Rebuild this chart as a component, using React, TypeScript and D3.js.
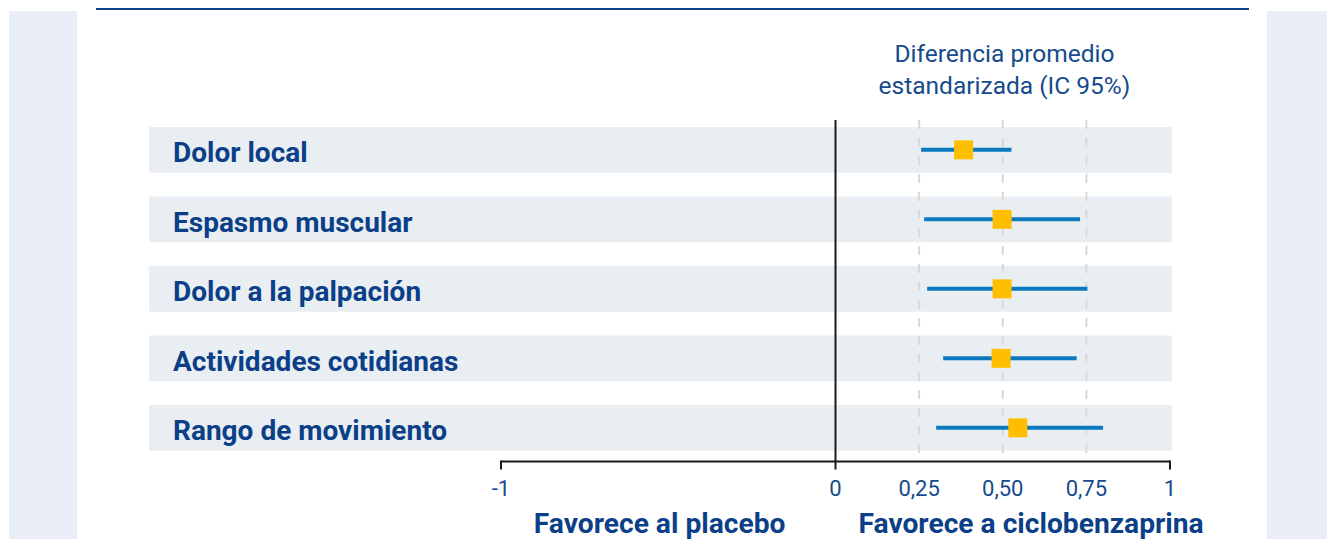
import * as d3 from "d3";

const categories = [
  "Dolor local",
  "Espasmo muscular",
  "Dolor a la palpación",
  "Actividades cotidianas",
  "Rango de movimiento",
];
const estimates = [0.383, 0.498, 0.498, 0.495, 0.545];
const lowerCI = [0.256, 0.265, 0.274, 0.322, 0.301];
const upperCI = [0.526, 0.731, 0.753, 0.721, 0.8];

const tickValues = [-1, 0, 0.25, 0.5, 0.75, 1];
const tickLabels = ["-1", "0", "0,25", "0,50", "0,75", "1"];
const tickMarks = [-1, 0, 1];
const gridValues = [0.25, 0.5, 0.75];

const W = 1327;
const H = 539;
const navy = "#0b3f88";
const blueText = "#154b8c";
const font = "Roboto, 'Liberation Sans', Arial, sans-serif";

const App = () => {
  const x = d3.scaleLinear().domain([-1, 1]).range([501, 1170]);
  const y = d3
    .scaleBand<string>()
    .domain(categories)
    .range([127, 450.7])
    .paddingInner(0.342)
    .paddingOuter(0);

  const axisY = 461.5;
  const plotTop = 120;
  const bw = y.bandwidth();
  const sq = 19;

  return (
    <div style={{ position: "absolute", left: 0, top: 0 }}>
      <svg width={W} height={H} style={{ display: "block", fontFamily: font }}>
        <rect width={W} height={H} fill="#ffffff" />
        {/* side panels */}
        <rect x={9} y={11} width={68} height={H - 11} fill="#eaeef6" />
        <rect x={1267} y={11} width={W - 1267} height={H - 11} fill="#eaeef6" />
        {/* top rule */}
        <line x1={96} x2={1249} y1={9} y2={9} stroke={navy} strokeWidth={2} />

        {/* header */}
        <text
          x={x(0.505)}
          y={61.5}
          textAnchor="middle"
          fontSize={24.5}
          fill={blueText}
        >
          <tspan x={x(0.505)} dy={0}>Diferencia promedio</tspan>
          <tspan x={x(0.505)} dy={32.5}>estandarizada (IC 95%)</tspan>
        </text>

        {/* row bands */}
        {categories.map((c) => (
          <rect
            key={c}
            x={149}
            y={y(c)}
            width={1172 - 149}
            height={bw}
            fill="#e9eef3"
          />
        ))}

        {/* dashed grid */}
        {gridValues.map((v) => (
          <line
            key={v}
            x1={x(v)}
            x2={x(v)}
            y1={plotTop}
            y2={axisY}
            stroke="#d9d9d9"
            strokeWidth={2}
            strokeDasharray="9,9"
          />
        ))}

        {/* zero line */}
        <line
          x1={x(0)}
          x2={x(0)}
          y1={plotTop}
          y2={axisY}
          stroke="#1a1a1a"
          strokeWidth={2}
        />

        {/* row labels */}
        {categories.map((c) => (
          <text
            key={c}
            x={173}
            y={(y(c) as number) + bw / 2 + 12.5}
            fontSize={28}
            fontWeight="bold"
            fill={navy}
          >
            {c}
          </text>
        ))}

        {/* CI lines and estimates */}
        {categories.map((c, i) => {
          const cy = (y(c) as number) + bw / 2;
          return (
            <g key={c}>
              <line
                x1={x(lowerCI[i])}
                x2={x(upperCI[i])}
                y1={cy}
                y2={cy}
                stroke="#0b78c0"
                strokeWidth={4}
              />
              <rect
                x={x(estimates[i]) - sq / 2}
                y={cy - sq / 2}
                width={sq}
                height={sq}
                fill="#ffbf00"
              />
            </g>
          );
        })}

        {/* x axis */}
        <line
          x1={x(-1)}
          x2={x(1)}
          y1={axisY}
          y2={axisY}
          stroke="#1a1a1a"
          strokeWidth={2}
        />
        {tickMarks.map((v) => (
          <line
            key={v}
            x1={x(v)}
            x2={x(v)}
            y1={axisY - 1}
            y2={axisY + 8}
            stroke="#1a1a1a"
            strokeWidth={2}
          />
        ))}
        {tickValues.map((v, i) => (
          <text
            key={v}
            x={x(v)}
            y={496}
            textAnchor="middle"
            fontSize={22}
            fill={blueText}
          >
            {tickLabels[i]}
          </text>
        ))}

        {/* direction labels */}
        <text
          x={x(0) - 50}
          y={533}
          textAnchor="end"
          fontSize={28.2}
          fontWeight="bold"
          fill={navy}
        >
          Favorece al placebo
        </text>
        <text
          x={x(0) + 23}
          y={533}
          textAnchor="start"
          fontSize={28.2}
          fontWeight="bold"
          fill={navy}
        >
          Favorece a ciclobenzaprina
        </text>
      </svg>
    </div>
  );
};

export default App;
